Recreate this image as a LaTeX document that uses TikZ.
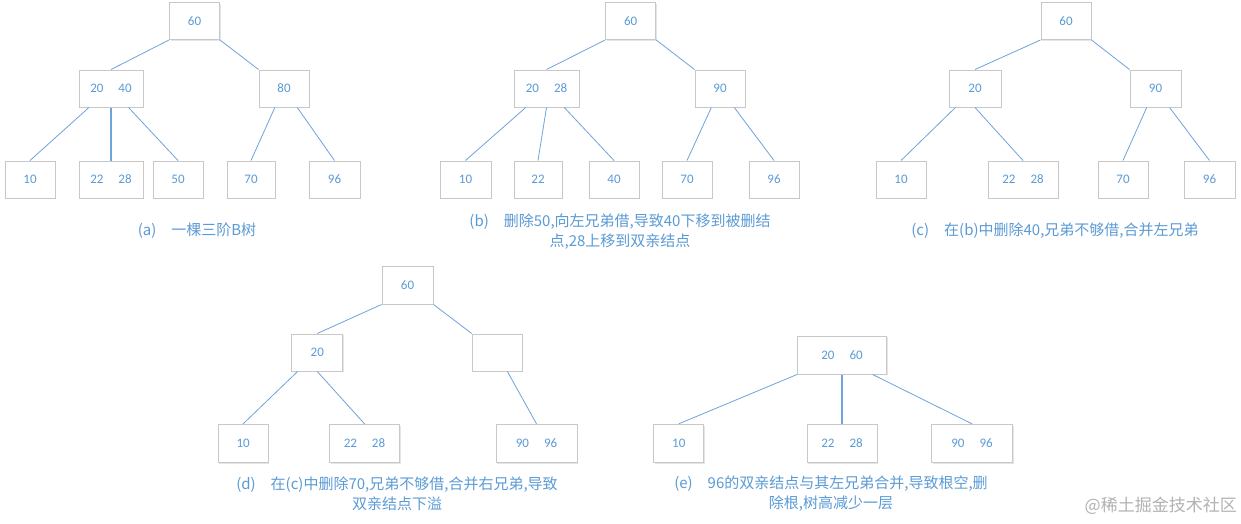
\documentclass[tikz,border=0pt]{standalone}
\usepackage{fontspec}
\setmainfont{Carlito}
\newfontfamily\cjk{Noto Sans CJK SC}
\usetikzlibrary{calc,shadows}
\definecolor{tblue}{RGB}{91,155,213}
\definecolor{lblue}{RGB}{112,163,218}
\definecolor{bgray}{RGB}{200,200,200}
\begin{document}
\begin{tikzpicture}[x=1pt,y=-1pt,
  box/.style={draw=bgray, line width=1pt, fill=white, minimum width=50pt, minimum height=37pt,
    inner sep=0pt, font=\fontsize{13}{13}\selectfont, text=tblue,
    drop shadow={shadow xshift=1pt,shadow yshift=-1.2pt,fill=black!10,opacity=1}},
  link/.style={draw=lblue, line width=0.8pt},
  blink/.style={draw=lblue, line width=1.6pt},
  captxt/.style={font=\cjk\fontsize{15}{20}\selectfont, text=tblue, align=center}
]
\fill[white] (0,0) rectangle (1241,523);
\useasboundingbox (0,0) rectangle (1241,523);

% ---------- tree (a)
\node[box] (a60) at (194.5,21) {60};
\node[box, minimum width=64pt] (a2040) at (111,88.5) {20\hspace{15pt}40};
\node[box] (a80) at (284,88.5) {80};
\node[box] (a10) at (30,179.5) {10};
\node[box, minimum width=64pt] (a2228) at (111,179.5) {22\hspace{15pt}28};
\node[box] (a50) at (178,179.5) {50};
\node[box, minimum width=48pt] (a70) at (251,179.5) {70};
\node[box, minimum width=51pt] (a96) at (334.5,179.5) {96};
\draw[link] (a60.south west) -- (a2040.north);
\draw[link] (a60.south east) -- (a80.north west);
\draw[link] ($(a2040.south west)!0.16!(a2040.south east)$) -- (a10.north);
\draw[blink] (a2040.south) -- (a2228.north);
\draw[link] ($(a2040.south west)!0.77!(a2040.south east)$) -- (a50.north);
\draw[link] ($(a80.south west)!0.32!(a80.south east)$) -- (a70.north);
\draw[link] ($(a80.south west)!0.76!(a80.south east)$) -- (a96.north);
\node[captxt] (capa) at (197,231) {(a)\quad 一棵三阶B树};

% ---------- tree (b)
\node[box] (b60) at (630.7,21) {60};
\node[box, minimum width=65pt] (b2028) at (546.5,88.5) {20\hspace{15pt}28};
\node[box] (b90) at (720,88.5) {90};
\node[box, minimum width=51pt] (b10) at (465.5,179.5) {10};
\node[box, minimum width=48pt] (b22) at (538,179.5) {22};
\node[box] (b40) at (614,179.5) {40};
\node[box] (b70) at (687,179.5) {70};
\node[box] (b96) at (774,179.5) {96};
\draw[link] (b60.south west) -- (b2028.north);
\draw[link] (b60.south east) -- (b90.north west);
\draw[link] ($(b2028.south west)!0.185!(b2028.south east)$) -- (b10.north);
\draw[link] (b2028.south) -- (b22.north);
\draw[link] ($(b2028.south west)!0.77!(b2028.south east)$) -- (b40.north);
\draw[link] ($(b90.south west)!0.33!(b90.south east)$) -- (b70.north);
\draw[link] ($(b90.south west)!0.78!(b90.south east)$) -- (b96.north);
\node[captxt] (capb) at (620,231.7) {(b)\quad 删除50,向左兄弟借,导致40下移到被删结\\点,28上移到双亲结点};

% ---------- tree (c)
\node[box] (c60) at (1066,21) {60};
\node[box, minimum width=52pt] (c20) at (975,88.5) {20};
\node[box, minimum width=51pt] (c90) at (1155.5,88.5) {90};
\node[box] (c10) at (901,179.5) {10};
\node[box, minimum width=70pt] (c2228) at (1023,179.5) {22\hspace{15pt}28};
\node[box] (c70) at (1123,179.5) {70};
\node[box, minimum width=51pt] (c96) at (1209.5,179.5) {96};
\draw[link] (c60.south west) -- (c20.north);
\draw[link] (c60.south east) -- (c90.north west);
\draw[link] ($(c20.south west)!0.13!(c20.south east)$) -- (c10.north);
\draw[link] (c20.south) -- (c2228.north);
\draw[link] ($(c90.south west)!0.33!(c90.south east)$) -- (c70.north);
\draw[link] ($(c90.south west)!0.77!(c90.south east)$) -- (c96.north);
\node[captxt] (capc) at (1055,231) {(c)\quad 在(b)中删除40,兄弟不够借,合并左兄弟};

% ---------- tree (d)
\node[box, minimum width=51pt, minimum height=38pt] (d60) at (407.5,285) {60};
\node[box, minimum width=51pt] (d20) at (317.3,352.5) {20};
\node[box] (dE) at (497.2,352.5) {};
\node[box, minimum height=38pt] (d10) at (243.2,443.3) {10};
\node[box, minimum width=70pt, minimum height=38pt] (d2228) at (364.5,443.3) {22\hspace{15pt}28};
\node[box, minimum width=81pt, minimum height=38pt] (d9096) at (536.5,443.3) {90\hspace{15pt}96};
\draw[link] (d60.south west) -- (d20.north);
\draw[link] (d60.south east) -- (dE.north west);
\draw[link] ($(d20.south west)!0.12!(d20.south east)$) -- (d10.north);
\draw[link] (d20.south) -- (d2228.north);
\draw[link] ($(dE.south west)!0.7!(dE.south east)$) -- (d9096.north);
\node[captxt] (capd) at (397,494) {(d)\quad 在(c)中删除70,兄弟不够借,合并右兄弟,导致\\双亲结点下溢};

% ---------- tree (e)
\node[box, minimum width=89pt, minimum height=38pt] (e2060) at (842,355) {20\hspace{15pt}60};
\node[box, minimum height=38pt] (e10) at (678.8,443.3) {10};
\node[box, minimum width=70pt, minimum height=38pt] (e2228) at (842,443.3) {22\hspace{15pt}28};
\node[box, minimum width=81pt, minimum height=38pt] (e9096) at (972,443.3) {90\hspace{15pt}96};
\draw[link] (e2060.south west) -- (e10.north);
\draw[blink] (e2060.south) -- (e2228.north);
\draw[link] ($(e2060.south west)!0.84!(e2060.south east)$) -- (e9096.north);
\node[captxt] (cape) at (831,493.5) {(e)\quad 96的双亲结点与其左兄弟合并,导致根空,删\\除根,树高减少一层};

% ---------- watermark
\node[font=\cjk\fontsize{17}{17}\selectfont, text=black!30, anchor=east, inner sep=0pt] (wm) at (1237,506) {@稀土掘金技术社区};
\end{tikzpicture}
\end{document}
